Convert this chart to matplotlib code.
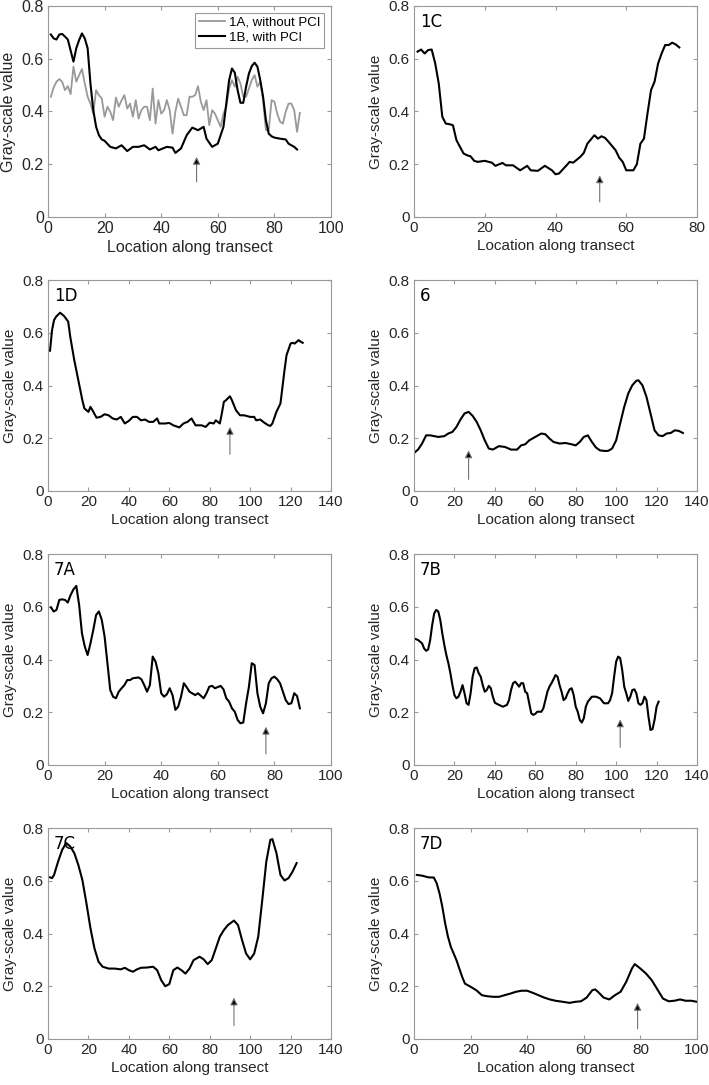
import numpy as np
from matplotlib import pyplot as plt

plt.rcParams['font.family'] = ['Liberation Sans', 'DejaVu Sans']

# panel 1: 1A (without PCI) and 1B (with PCI)
x_1a = list(range(1, 90))
y_1a = [0.456, 0.491, 0.513, 0.523, 0.513, 0.481, 0.496, 0.466, 0.570, 0.513,
        0.538, 0.561, 0.506, 0.456, 0.430, 0.392, 0.481, 0.462, 0.449, 0.380,
        0.418, 0.399, 0.367, 0.453, 0.418, 0.443, 0.462, 0.411, 0.430, 0.380,
        0.443, 0.373, 0.405, 0.418, 0.418, 0.367, 0.487, 0.354, 0.443, 0.392,
        0.405, 0.443, 0.405, 0.316, 0.399, 0.449, 0.418, 0.386, 0.386, 0.456,
        0.456, 0.462, 0.496, 0.437, 0.405, 0.443, 0.348, 0.405, 0.392, 0.367,
        0.342, 0.392, 0.418, 0.487, 0.519, 0.494, 0.532, 0.506, 0.456, 0.456,
        0.487, 0.519, 0.538, 0.494, 0.513, 0.443, 0.329, 0.329, 0.443, 0.437,
        0.392, 0.361, 0.354, 0.399, 0.430, 0.430, 0.405, 0.323, 0.395]
x_1b = [1, 2, 3, 4, 5, 6, 7, 9, 10, 11, 12, 13, 14, 15, 16, 17, 18, 19, 20, 22,
        24, 26, 28, 30, 32, 34, 36, 38, 39, 42, 44, 45, 47, 49, 51, 53, 55, 56,
        58, 60, 62, 63, 64, 65, 66, 67, 68, 69, 70, 71, 72, 73, 74, 75, 76, 77,
        78, 79, 80, 82, 84, 85, 86, 87, 88]
y_1b = [0.692, 0.677, 0.673, 0.692, 0.694, 0.684, 0.673, 0.589, 0.640, 0.671,
        0.696, 0.677, 0.640, 0.506, 0.405, 0.342, 0.310, 0.294, 0.289, 0.266,
        0.260, 0.272, 0.250, 0.266, 0.266, 0.272, 0.256, 0.266, 0.253, 0.266,
        0.263, 0.243, 0.260, 0.310, 0.339, 0.329, 0.342, 0.297, 0.266, 0.278,
        0.342, 0.430, 0.519, 0.563, 0.547, 0.481, 0.433, 0.433, 0.494, 0.544,
        0.572, 0.585, 0.570, 0.519, 0.456, 0.367, 0.316, 0.306, 0.301, 0.297,
        0.294, 0.278, 0.272, 0.266, 0.256]

x_1c = [1, 2, 3, 4, 5, 6, 7, 8, 9, 10, 11, 12, 13, 14, 15, 16, 17, 18, 20, 22,
        23, 25, 26, 28, 30, 32, 33, 35, 37, 39, 40, 41, 43, 44, 45, 47, 48, 49,
        50, 51, 52, 53, 54, 55, 57, 58, 59, 60, 62, 63, 64, 65, 66, 67, 68, 69,
        70, 71, 72, 73, 74, 75]
y_1c = [0.627, 0.635, 0.620, 0.633, 0.635, 0.582, 0.506, 0.380, 0.354, 0.352,
        0.348, 0.291, 0.266, 0.241, 0.234, 0.230, 0.213, 0.209, 0.213, 0.206,
        0.194, 0.205, 0.196, 0.196, 0.177, 0.194, 0.177, 0.175, 0.194, 0.177,
        0.162, 0.165, 0.194, 0.209, 0.206, 0.228, 0.243, 0.278, 0.294, 0.310,
        0.297, 0.306, 0.300, 0.285, 0.253, 0.225, 0.209, 0.177, 0.177, 0.200,
        0.278, 0.297, 0.392, 0.481, 0.513, 0.582, 0.620, 0.652, 0.652, 0.661,
        0.654, 0.643]

x_1d = [1, 2, 3, 4, 6, 8, 10, 11, 13, 15, 17, 18, 20, 21, 22, 24, 26, 28, 30,
        32, 34, 36, 38, 40, 42, 44, 46, 48, 50, 52, 54, 55, 58, 60, 62, 65, 67,
        69, 71, 73, 76, 78, 80, 82, 83, 85, 86, 87, 88, 90, 91, 93, 95, 97, 100,
        102, 103, 105, 107, 109, 110, 111, 113, 115, 116, 117, 118, 120, 121,
        122, 124, 125, 126]
y_1d = [0.532, 0.610, 0.648, 0.661, 0.676, 0.663, 0.642, 0.585, 0.496, 0.420,
        0.344, 0.313, 0.300, 0.319, 0.306, 0.278, 0.281, 0.291, 0.287, 0.275,
        0.271, 0.281, 0.256, 0.266, 0.281, 0.281, 0.268, 0.271, 0.262, 0.262,
        0.275, 0.256, 0.256, 0.258, 0.249, 0.241, 0.256, 0.262, 0.275, 0.249,
        0.249, 0.243, 0.259, 0.256, 0.268, 0.256, 0.294, 0.338, 0.344, 0.359,
        0.344, 0.306, 0.287, 0.287, 0.281, 0.281, 0.268, 0.271, 0.259, 0.249,
        0.247, 0.256, 0.300, 0.332, 0.395, 0.458, 0.515, 0.559, 0.562, 0.559,
        0.572, 0.566, 0.562]

x_6 = [0, 2, 4, 6, 8, 10, 12, 15, 17, 19, 21, 23, 25, 27, 29, 31, 33, 35, 37,
       39, 42, 45, 48, 51, 53, 55, 57, 60, 63, 65, 67, 69, 72, 75, 78, 80, 82,
       84, 86, 88, 90, 92, 94, 96, 98, 100, 102, 104, 106, 108, 110, 111, 113,
       115, 117, 119, 121, 123, 125, 127, 129, 131, 133]
y_6 = [0.144, 0.157, 0.180, 0.211, 0.211, 0.208, 0.205, 0.208, 0.218, 0.224,
       0.243, 0.271, 0.294, 0.300, 0.285, 0.262, 0.230, 0.192, 0.161, 0.157,
       0.170, 0.167, 0.157, 0.157, 0.173, 0.177, 0.192, 0.205, 0.218, 0.215,
       0.199, 0.186, 0.180, 0.182, 0.177, 0.173, 0.186, 0.205, 0.211, 0.186,
       0.165, 0.154, 0.152, 0.152, 0.161, 0.192, 0.256, 0.319, 0.370, 0.401,
       0.418, 0.420, 0.401, 0.357, 0.294, 0.230, 0.211, 0.208, 0.218, 0.220,
       0.230, 0.228, 0.220]

x_7a = [1, 2, 3, 4, 5, 6, 7, 8, 9, 10, 11, 12, 13, 14, 15, 16, 17, 18, 19, 20,
        21, 22, 23, 24, 25, 26, 27, 28, 29, 30, 32, 33, 34, 35, 36, 37, 38, 39,
        40, 41, 42, 43, 44, 45, 46, 47, 48, 49, 50, 52, 53, 55, 56, 57, 58, 59,
        61, 62, 63, 64, 65, 66, 67, 68, 69, 70, 71, 72, 73, 74, 75, 76, 77, 78,
        79, 80, 81, 82, 83, 84, 85, 86, 87, 88, 89]
y_7a = [0.598, 0.582, 0.588, 0.626, 0.628, 0.626, 0.616, 0.645, 0.666, 0.679,
        0.607, 0.499, 0.449, 0.417, 0.461, 0.512, 0.569, 0.582, 0.550, 0.487,
        0.386, 0.284, 0.259, 0.253, 0.278, 0.291, 0.303, 0.322, 0.322, 0.329,
        0.332, 0.325, 0.303, 0.278, 0.303, 0.411, 0.392, 0.348, 0.272, 0.259,
        0.268, 0.291, 0.265, 0.209, 0.221, 0.259, 0.310, 0.295, 0.278, 0.265,
        0.272, 0.253, 0.272, 0.297, 0.300, 0.291, 0.300, 0.287, 0.253, 0.240,
        0.215, 0.202, 0.171, 0.158, 0.161, 0.234, 0.297, 0.386, 0.379, 0.272,
        0.221, 0.196, 0.234, 0.310, 0.329, 0.335, 0.325, 0.310, 0.278, 0.246,
        0.231, 0.234, 0.272, 0.262, 0.215]

x_7b = [0, 2, 4, 5, 6, 7, 8, 9, 10, 11, 12, 13, 14, 15, 16, 17, 18, 19, 20, 21,
        22, 23, 24, 25, 26, 27, 28, 29, 30, 31, 32, 33, 34, 35, 36, 37, 38, 39,
        40, 42, 44, 46, 47, 48, 49, 50, 51, 52, 53, 54, 55, 56, 57, 58, 59, 60,
        61, 63, 64, 65, 66, 67, 68, 69, 70, 71, 72, 73, 74, 75, 76, 77, 78, 79,
        80, 81, 82, 83, 84, 85, 86, 88, 90, 92, 94, 96, 97, 98, 99, 100, 101,
        102, 103, 104, 105, 106, 107, 108, 109, 110, 111, 112, 113, 114, 115,
        116, 117, 118, 119, 120, 121]
y_7b = [0.480, 0.474, 0.461, 0.442, 0.433, 0.438, 0.474, 0.531, 0.575, 0.588,
        0.582, 0.550, 0.499, 0.455, 0.417, 0.386, 0.348, 0.303, 0.265, 0.253,
        0.259, 0.278, 0.303, 0.272, 0.234, 0.228, 0.272, 0.335, 0.367, 0.370,
        0.348, 0.335, 0.303, 0.278, 0.284, 0.300, 0.291, 0.259, 0.236, 0.228,
        0.221, 0.228, 0.246, 0.284, 0.310, 0.316, 0.307, 0.297, 0.310, 0.310,
        0.278, 0.272, 0.234, 0.196, 0.190, 0.194, 0.202, 0.202, 0.215, 0.246,
        0.278, 0.297, 0.310, 0.325, 0.341, 0.335, 0.303, 0.278, 0.246, 0.253,
        0.272, 0.287, 0.291, 0.265, 0.221, 0.202, 0.171, 0.161, 0.177, 0.221,
        0.240, 0.259, 0.259, 0.253, 0.234, 0.234, 0.246, 0.272, 0.335, 0.392,
        0.411, 0.405, 0.360, 0.297, 0.272, 0.243, 0.259, 0.284, 0.287, 0.272,
        0.234, 0.228, 0.234, 0.259, 0.246, 0.183, 0.133, 0.136, 0.171, 0.221,
        0.240]

x_7c = [1, 2, 3, 5, 7, 9, 11, 13, 15, 17, 19, 21, 23, 25, 27, 30, 33, 36, 38,
        40, 42, 44, 46, 49, 52, 54, 56, 58, 60, 62, 64, 66, 68, 70, 72, 75, 77,
        79, 81, 83, 85, 87, 89, 92, 94, 96, 98, 100, 102, 104, 106, 108, 110,
        111, 113, 115, 117, 119, 121, 123]
y_7c = [0.613, 0.610, 0.622, 0.673, 0.717, 0.743, 0.730, 0.705, 0.660, 0.603,
        0.515, 0.420, 0.343, 0.293, 0.274, 0.267, 0.267, 0.264, 0.270, 0.261,
        0.255, 0.264, 0.270, 0.271, 0.274, 0.261, 0.223, 0.200, 0.208, 0.261,
        0.271, 0.261, 0.248, 0.267, 0.299, 0.312, 0.302, 0.284, 0.299, 0.343,
        0.388, 0.413, 0.432, 0.449, 0.432, 0.375, 0.324, 0.302, 0.324, 0.388,
        0.527, 0.673, 0.755, 0.758, 0.705, 0.622, 0.601, 0.610, 0.635, 0.667]

x_7d = [1, 3, 5, 7, 8, 9, 10, 11, 12, 13, 15, 17, 18, 20, 22, 24, 26, 28, 30,
        32, 34, 36, 38, 40, 42, 44, 46, 48, 50, 52, 55, 57, 59, 61, 63, 64, 65,
        67, 69, 71, 73, 75, 77, 78, 80, 82, 84, 86, 88, 90, 92, 94, 96, 98, 100]
y_7d = [0.622, 0.619, 0.613, 0.612, 0.591, 0.553, 0.502, 0.439, 0.388, 0.350,
        0.299, 0.236, 0.210, 0.198, 0.185, 0.166, 0.162, 0.160, 0.160, 0.166,
        0.172, 0.179, 0.183, 0.183, 0.175, 0.166, 0.157, 0.150, 0.145, 0.142,
        0.137, 0.141, 0.143, 0.157, 0.185, 0.188, 0.179, 0.157, 0.150, 0.166,
        0.179, 0.217, 0.267, 0.284, 0.267, 0.248, 0.223, 0.188, 0.153, 0.143,
        0.145, 0.150, 0.145, 0.145, 0.141]

# panel label, x series, y series, x limit, arrow (x, tail y, head y)
panels = [
    ('1C', x_1c, y_1c, 80, (52.5, 0.057, 0.158)),
    ('1D', x_1d, y_1d, 140, (90, 0.139, 0.243)),
    ('6', x_6, y_6, 140, (27, 0.044, 0.154)),
    ('7A', x_7a, y_7a, 100, (77, 0.042, 0.145)),
    ('7B', x_7b, y_7b, 140, (102, 0.067, 0.173)),
    ('7C', x_7c, y_7c, 140, (92, 0.051, 0.157)),
    ('7D', x_7d, y_7d, 100, (79, 0.039, 0.137)),
]

W, H = 709, 1085
fig = plt.figure(figsize=(W / 100, H / 100), dpi=100)
lefts = [48, 414]
bottoms = [868, 594, 320, 46]


def style(ax, xmax, fs):
    ax.set_xlim(0, xmax)
    ax.set_ylim(0, 0.8)
    ax.set_xticks(np.arange(0, xmax + 1, 20))
    ax.set_yticks([0, 0.2, 0.4, 0.6, 0.8])
    ax.set_yticklabels(['0', '0.2', '0.4', '0.6', '0.8'])
    for s in ax.spines.values():
        s.set_color('0.6')
        s.set_linewidth(0.8)
    ax.tick_params(direction='in', top=True, right=True, length=3,
                   color='0.6', labelsize=fs, labelcolor='#262626', pad=3)
    ax.set_xlabel('Location along transect', fontsize=fs, color='#262626', labelpad=3)
    ax.set_ylabel('Gray-scale value', fontsize=fs, color='#262626', labelpad=4)


def arrow(ax, a):
    x, y0, y1 = a
    ax.annotate('', xy=(x, y1), xytext=(x, y0),
                arrowprops=dict(arrowstyle='-|>', lw=0.8, ec='0.45', fc='k',
                                mutation_scale=11, shrinkA=0, shrinkB=0))


# first panel with legend
ax = fig.add_axes([lefts[0] / W, bottoms[0] / H, 283 / W, 211 / H])
ax.plot(x_1a, y_1a, color='0.6', lw=1.3, label='1A, without PCI')
ax.plot(x_1b, y_1b, color='k', lw=1.5, label='1B, with PCI')
style(ax, 100, 11.5)
arrow(ax, (52.5, 0.133, 0.228))
leg = ax.legend(loc='upper right', fontsize=9.5, fancybox=False, edgecolor='0.6',
                framealpha=1, borderaxespad=0.5, handlelength=2.0, handletextpad=0.3,
                borderpad=0.3, labelspacing=0.2)
leg.get_frame().set_linewidth(0.8)

for i, (lab, xs, ys, xmax, arr) in enumerate(panels):
    k = i + 1
    ax = fig.add_axes([lefts[k % 2] / W, bottoms[k // 2] / H, 283 / W, 211 / H])
    ax.plot(xs, ys, color='k', lw=1.5)
    style(ax, xmax, 11)
    arrow(ax, arr)
    ax.text(0.02, 0.965, lab, transform=ax.transAxes, ha='left', va='top',
            fontsize=12, family='DejaVu Sans', color='k')

fig.savefig('out.png', dpi=100)
